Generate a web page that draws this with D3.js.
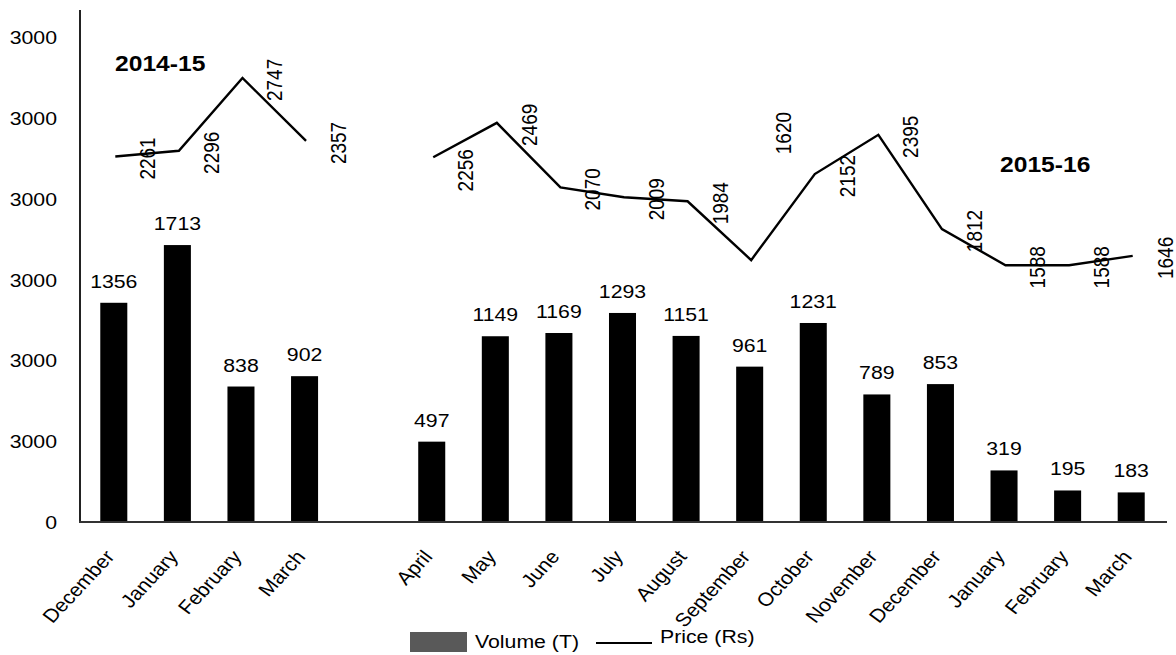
<!DOCTYPE html>
<html>
<head>
<meta charset="utf-8">
<script src="https://cdn.jsdelivr.net/npm/d3@7"></script>
<style>
  html, body { margin: 0; padding: 0; background: #fff; }
  svg { display: block; font-family: "Liberation Sans", Arial, Helvetica, sans-serif; }
</style>
</head>
<body>
<svg id="chart" width="1176" height="655"></svg>
<script>
// ---- data ----
const seasons = ["2014-15", "2015-16"];
const months1415 = ["December", "January", "February", "March"];
const months1516 = ["April", "May", "June", "July", "August", "September",
                    "October", "November", "December", "January", "February", "March"];
const volume1415 = [1356, 1713, 838, 902];
const volume1516 = [497, 1149, 1169, 1293, 1151, 961, 1231, 789, 853, 319, 195, 183];
const price1415 = [2261, 2296, 2747, 2357];
const price1516 = [2256, 2469, 2070, 2009, 1984, 1620, 2152, 2395, 1812, 1588, 1588, 1646];
const yTickValues = [0, 500, 1000, 1500, 2000, 2500, 3000];
const yTickLabels = ["0", "3000", "3000", "3000", "3000", "3000", "3000"];
const legendLabels = ["Volume (T)", "Price (Rs)"];

// ---- layout ----
const W = 1176, H = 655;
const SX = 1.12;               // horizontal stretch applied to all lettering
const FONT = 19;
const svg = d3.select("#chart");

// one slot per month, with an empty slot between the two seasons
const rows = [];
months1415.forEach((m, i) => rows.push({ key: seasons[0] + "|" + m, month: m, season: seasons[0], vol: volume1415[i], price: price1415[i] }));
rows.push({ key: "gap", month: "", season: null, vol: null, price: null });
months1516.forEach((m, i) => rows.push({ key: seasons[1] + "|" + m, month: m, season: seasons[1], vol: volume1516[i], price: price1516[i] }));
const real = rows.filter(r => r.season);

const x = d3.scaleBand()
  .domain(rows.map(r => r.key))
  .range([82, 1163])
  .paddingInner(0.575)
  .paddingOuter(0.2875);
const cx = k => x(k) + x.bandwidth() / 2;

const y = d3.scaleLinear().domain([0, 3000]).range([522, 37]);

function place(sel, px, py, extra) {
  return sel.attr("transform", `translate(${px},${py}) scale(${SX},1)` + (extra ? " " + extra : ""));
}

// ---- axes ----
const yAxis = d3.axisLeft(y)
  .tickValues(yTickValues)
  .tickFormat((d, i) => yTickLabels[i])
  .tickSize(0)
  .tickPadding(0);
const gy = svg.append("g").call(yAxis);
gy.select(".domain").remove();
gy.selectAll(".tick text").each(function () {
  const t = d3.select(this);
  t.attr("x", null).attr("dy", "0.35em")
   .attr("font-size", FONT).attr("fill", "#000")
   .attr("font-family", "Liberation Sans, Arial, sans-serif");
  place(t, 57, 0);
});

const xAxis = d3.axisBottom(x).tickSize(0).tickFormat(k => (rows.find(r => r.key === k) || {}).month || "");
const gx = svg.append("g").attr("transform", `translate(0,${y(0)})`).call(xAxis);
gx.select(".domain").remove();
gx.selectAll(".tick text").each(function () {
  const t = d3.select(this);
  t.attr("y", null).attr("dy", "0.35em")
   .attr("text-anchor", "end")
   .attr("font-size", FONT).attr("fill", "#000")
   .attr("font-family", "Liberation Sans, Arial, sans-serif");
  place(t, -4, 31, "rotate(-50)");
});

// ---- bars ----
svg.append("g").selectAll("rect")
  .data(real)
  .join("rect")
  .attr("x", d => x(d.key))
  .attr("width", x.bandwidth())
  .attr("y", d => y(d.vol))
  .attr("height", d => y(0) - y(d.vol))
  .attr("fill", "#000");

// volume values above the bars
svg.append("g").selectAll("text")
  .data(real)
  .join("text")
  .attr("text-anchor", "middle")
  .attr("font-size", FONT)
  .attr("fill", "#000")
  .text(d => d.vol)
  .each(function (d) { place(d3.select(this), cx(d.key), y(d.vol) - 15); });

// axis lines
svg.append("line").attr("x1", 80).attr("x2", 80).attr("y1", 10).attr("y2", y(0) + 1)
  .attr("stroke", "#222").attr("stroke-width", 2);
svg.append("line").attr("x1", 79).attr("x2", 1167).attr("y1", y(0)).attr("y2", y(0))
  .attr("stroke", "#333").attr("stroke-width", 2);

// ---- price line, one segment per season ----
const line = d3.line()
  .defined(d => d.price != null)
  .x(d => cx(d.key) + 1.5)
  .y(d => y(d.price));
svg.append("path")
  .datum(rows)
  .attr("d", line)
  .attr("fill", "none")
  .attr("stroke", "#000")
  .attr("stroke-width", 2.4);

// price values, written vertically beside each point
const priceLabelNudge = { "2015-16|April": 11, "2015-16|September": -129 };
svg.append("g").selectAll("text")
  .data(real)
  .join("text")
  .attr("text-anchor", "middle")
  .attr("dy", "0.35em")
  .attr("font-size", FONT)
  .attr("fill", "#000")
  .text(d => d.price)
  .each(function (d) {
    place(d3.select(this), cx(d.key) + 34, y(d.price) + 2 + (priceLabelNudge[d.key] || 0), "rotate(-90)");
  });

// season titles
place(svg.append("text").attr("font-size", 22).attr("font-weight", "bold").text(seasons[0]), 115, 71);
place(svg.append("text").attr("font-size", 22).attr("font-weight", "bold").text(seasons[1]), 1000, 172);

// ---- legend ----
const lg = svg.append("g");
lg.append("rect").attr("x", 410).attr("y", 632).attr("width", 57).attr("height", 20).attr("fill", "#595959");
place(lg.append("text").attr("font-size", FONT).text(legendLabels[0]), 475, 648);
lg.append("line").attr("x1", 596).attr("x2", 652).attr("y1", 643).attr("y2", 643)
  .attr("stroke", "#000").attr("stroke-width", 2);
place(lg.append("text").attr("font-size", FONT).text(legendLabels[1]), 660, 643);
</script>
</body>
</html>
